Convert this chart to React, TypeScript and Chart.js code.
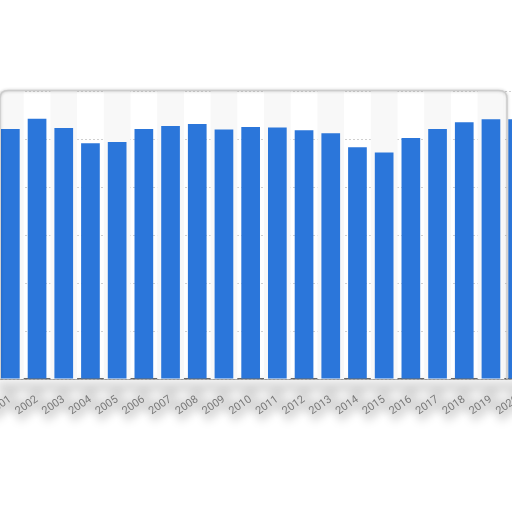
import React, { useEffect, useRef } from "react";
import { Chart, registerables } from "chart.js";

Chart.register(...registerables);

const years = ["2001","2002","2003","2004","2005","2006","2007","2008","2009","2010","2011","2012","2013","2014","2015","2016","2017","2018","2019","2020"];
const values = [52.1, 54.2, 52.3, 49.1, 49.4, 52.1, 52.7, 53.1, 52.0, 52.5, 52.4, 51.8, 51.2, 48.3, 47.2, 50.2, 52.1, 53.5, 54.1, 54.1];
const yMax = 60;
const yStep = 10;

const CANVAS_LEFT = -3;
const CANVAS_W = 534;
const CANVAS_H = 512;
const ROT = 35;

const decoPlugin = {
  id: "deco",
  beforeDatasetsDraw(chart: any) {
    const { ctx, chartArea, scales } = chart;
    const x = scales.x;
    ctx.save();
    const n = years.length;
    const w = (chartArea.right - chartArea.left) / n;
    for (let i = 0; i < n; i += 2) {
      const cx = x.getPixelForValue(i);
      ctx.fillStyle = "#f8f8f8";
      ctx.fillRect(cx - w / 2, chartArea.top, w, chartArea.bottom - chartArea.top);
    }
    ctx.restore();
  },
  beforeDraw(chart: any) {
    const { ctx, chartArea, scales } = chart;
    const x = scales.x;
    ctx.save();
    ctx.filter = "blur(4px)";
    ctx.fillStyle = "rgba(0,0,0,0.14)";
    ctx.fillRect(chartArea.left, chartArea.bottom + 2, chartArea.right - chartArea.left, 12);
    for (let i = 0; i < years.length; i++) {
      const cx = x.getPixelForValue(i);
      ctx.save();
      ctx.translate(cx + 2, chartArea.bottom + 14);
      ctx.rotate((-ROT * Math.PI) / 180);
      ctx.fillStyle = "rgba(0,0,0,0.14)";
      ctx.fillRect(-32, -4, 34, 17);
      ctx.restore();
    }
    ctx.restore();
  },
  afterDraw(chart: any) {
    const { ctx, chartArea } = chart;
    ctx.save();
    ctx.shadowColor = "rgba(0,0,0,0.25)";
    ctx.shadowBlur = 3;
    ctx.strokeStyle = "#cccccc";
    ctx.lineWidth = 1.5;
    const left = 3;
    const right = 510;
    const top = chartArea.top - 0.5;
    const bottom = chartArea.bottom;
    const r = 8;
    ctx.beginPath();
    ctx.moveTo(left, bottom);
    ctx.lineTo(left, top + r);
    ctx.quadraticCurveTo(left, top, left + r, top);
    ctx.lineTo(right - r, top);
    ctx.quadraticCurveTo(right, top, right, top + r);
    ctx.lineTo(right, bottom);
    ctx.stroke();
    ctx.restore();
  },
};

export default function App() {
  const ref = useRef<HTMLCanvasElement | null>(null);
  useEffect(() => {
    if (!ref.current) return;
    const chart = new Chart(ref.current, {
      type: "bar",
      data: {
        labels: years,
        datasets: [
          {
            data: values,
            backgroundColor: "#2b76da",
            borderWidth: 0,
            barPercentage: 0.7,
            categoryPercentage: 1,
          },
        ],
      },
      options: {
        responsive: false,
        animation: false,
        devicePixelRatio: 1,
        layout: { padding: { top: 91, left: 0, right: 0, bottom: 0 } },
        plugins: { legend: { display: false }, tooltip: { enabled: false } },
        scales: {
          x: {
            grid: { display: false, drawTicks: false },
            border: { display: true, color: "#666666", width: 1.5 },
            ticks: {
              color: "#7a7a7a",
              font: { family: "Roboto", size: 11 },
              minRotation: ROT,
              maxRotation: ROT,
              padding: 14,
              autoSkip: false,
            },
            afterFit: (s: any) => {
              s.height = 133;
              s.paddingLeft = 0;
              s.paddingRight = 0;
            },
          },
          y: {
            min: 0,
            max: yMax,
            ticks: { display: false, stepSize: yStep },
            grid: { color: "#d0d0d0", drawTicks: false, lineWidth: 1 },
            border: { display: false, dash: [2, 2] },
            afterFit: (s: any) => {
              s.width = 0;
            },
          },
        },
      },
      plugins: [decoPlugin],
    });
    return () => chart.destroy();
  }, []);
  return (
    <div style={{ position: "fixed", left: 0, top: 0, width: 512, height: 512, overflow: "hidden", background: "#fff" }}>
      <canvas
        ref={ref}
        width={CANVAS_W}
        height={CANVAS_H}
        style={{ position: "absolute", left: CANVAS_LEFT, top: 0, width: CANVAS_W, height: CANVAS_H }}
      />
    </div>
  );
}
